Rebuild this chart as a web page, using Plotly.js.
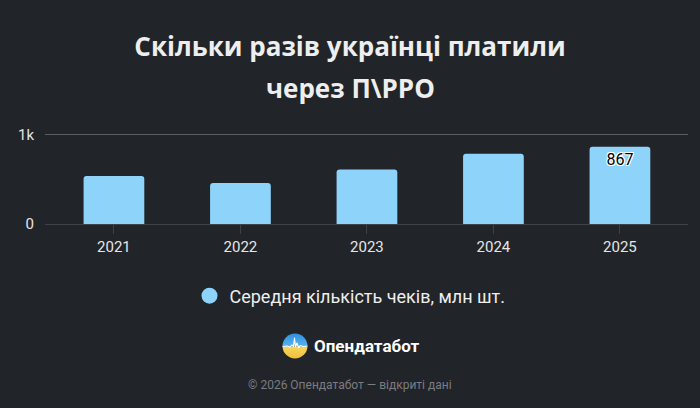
<!DOCTYPE html>
<html>
<head>
<meta charset="utf-8">
<script src="https://cdn.plot.ly/plotly-3.0.1.min.js"></script>
<style>
html,body{margin:0;padding:0;background:#212428;}
#chart{width:700px;height:408px;}
</style>
</head>
<body>
<div id="chart"></div>
<script>
const years = ['2021', '2022', '2023', '2024', '2025'];
const checks = [539, 460, 613, 789, 867];
const seriesName = 'Середня кількість чеків, млн шт.';
const titleLine1 = 'Скільки разів українці платили';
const titleLine2 = 'через П\\PPO';
const brand = 'Опендатабот';
const footer = '© 2026 Опендатабот — відкриті дані';
const yTickVals = [0, 1000];
const yTickText = ['0', '1k'];

const labels = checks.map((v, i) => i === checks.length - 1 ? String(v) : '');

const bg = '#212428';
const barColor = '#8dd3fa';
const fontBody = 'Roboto, "Open Sans", sans-serif';
const fontTitle = '"Open Sans", Roboto, sans-serif';

const logoSvg = '<svg xmlns="http://www.w3.org/2000/svg" width="52" height="52" viewBox="0 0 52 52">' +
  '<defs><clipPath id="c"><circle cx="26" cy="26" r="25"/></clipPath>' +
  '<linearGradient id="b" x1="0" y1="0" x2="0" y2="1"><stop offset="0" stop-color="#2f8fe0"/><stop offset="1" stop-color="#56b2ee"/></linearGradient>' +
  '<linearGradient id="y" x1="0" y1="0" x2="0" y2="1"><stop offset="0" stop-color="#f7d65a"/><stop offset="1" stop-color="#eec13a"/></linearGradient></defs>' +
  '<g clip-path="url(#c)"><rect x="0" y="0" width="52" height="27" fill="url(#b)"/><rect x="0" y="27" width="52" height="25" fill="url(#y)"/>' +
  '<polyline points="0,27 10,26 16,28 20,24 23,27 25,10 27,28 30,20 33,29 37,25 42,27 52,26" fill="none" stroke="#ffffff" stroke-width="2.2" stroke-linejoin="round"/></g></svg>';
const logoUri = 'data:image/svg+xml;base64,' + btoa(logoSvg);

const barTrace = {
  type: 'bar',
  x: years,
  y: checks,
  text: labels,
  textposition: 'inside',
  insidetextanchor: 'end',
  textangle: 0,
  textfont: {family: fontBody, size: 16, color: '#000000',
    shadow: '-1px -1px 0 #fff, 1px -1px 0 #fff, -1px 1px 0 #fff, 1px 1px 0 #fff'},
  marker: {color: barColor, cornerradius: 3},
  showlegend: false,
  hoverinfo: 'x+y'
};

const legendProxy = {
  type: 'scatter',
  mode: 'markers',
  x: [null],
  y: [null],
  name: seriesName,
  marker: {color: barColor, size: 18, symbol: 'circle'},
  showlegend: true,
  hoverinfo: 'skip'
};

const layout = {
  width: 700,
  height: 408,
  paper_bgcolor: bg,
  plot_bgcolor: bg,
  margin: {l: 45, r: 12, t: 126, b: 184},
  bargap: 0.52,
  font: {family: fontBody, color: '#e6e6e6'},
  title: {
    text: titleLine1,
    font: {family: fontTitle, size: 26, color: '#eeeeee', weight: 700},
    x: 0.5, xref: 'container', xanchor: 'center',
    y: 1 - 47 / 408, yref: 'container', yanchor: 'middle'
  },
  xaxis: {
    type: 'category',
    range: [-0.545, 4.538],
    showgrid: false,
    showline: true,
    linecolor: '#3e4146',
    linewidth: 1,
    ticks: 'outside',
    ticklen: 9,
    tickcolor: '#3e4146',
    tickfont: {family: fontBody, size: 15, color: '#e6e6e6'},
    zeroline: false,
    fixedrange: true
  },
  yaxis: {
    range: [0, 1100],
    tickvals: yTickVals,
    ticktext: yTickText,
    showgrid: true,
    gridcolor: '#5a5d62',
    gridwidth: 1,
    zeroline: false,
    showline: false,
    ticklabelstandoff: 10,
    tickfont: {family: fontBody, size: 15, color: '#e6e6e6'},
    fixedrange: true
  },
  legend: {
    orientation: 'h',
    x: 0.5, xref: 'container', xanchor: 'center',
    y: 1 - 296 / 408, yref: 'container', yanchor: 'middle',
    font: {family: fontBody, size: 18, color: '#eeeeee'},
    bgcolor: 'rgba(0,0,0,0)'
  },
  annotations: [
    {text: titleLine2, xref: 'paper', yref: 'paper', x: (350 - 45) / 643, y: (224 - 88) / 98,
     xanchor: 'center', yanchor: 'middle', showarrow: false,
     font: {family: fontTitle, size: 26, color: '#eeeeee', weight: 700}},
    {text: brand, xref: 'paper', yref: 'paper', x: (312 - 45) / 643, y: (224 - 346) / 98,
     xanchor: 'left', yanchor: 'middle', showarrow: false,
     font: {family: fontBody, size: 17, color: '#ffffff', weight: 700}},
    {text: footer, xref: 'paper', yref: 'paper', x: (350 - 45) / 643, y: (224 - 385) / 98,
     xanchor: 'center', yanchor: 'middle', showarrow: false,
     font: {family: fontBody, size: 12, color: '#7a7d82'}}
  ],
  images: [
    {source: logoUri, xref: 'paper', yref: 'paper', x: (282 - 45) / 643, y: (224 - 333) / 98,
     sizex: 26 / 643, sizey: 26 / 98, xanchor: 'left', yanchor: 'top', sizing: 'stretch', layer: 'above'}
  ]
};

Plotly.newPlot('chart', [barTrace, legendProxy], layout, {displayModeBar: false, staticPlot: true});
</script>
</body>
</html>
